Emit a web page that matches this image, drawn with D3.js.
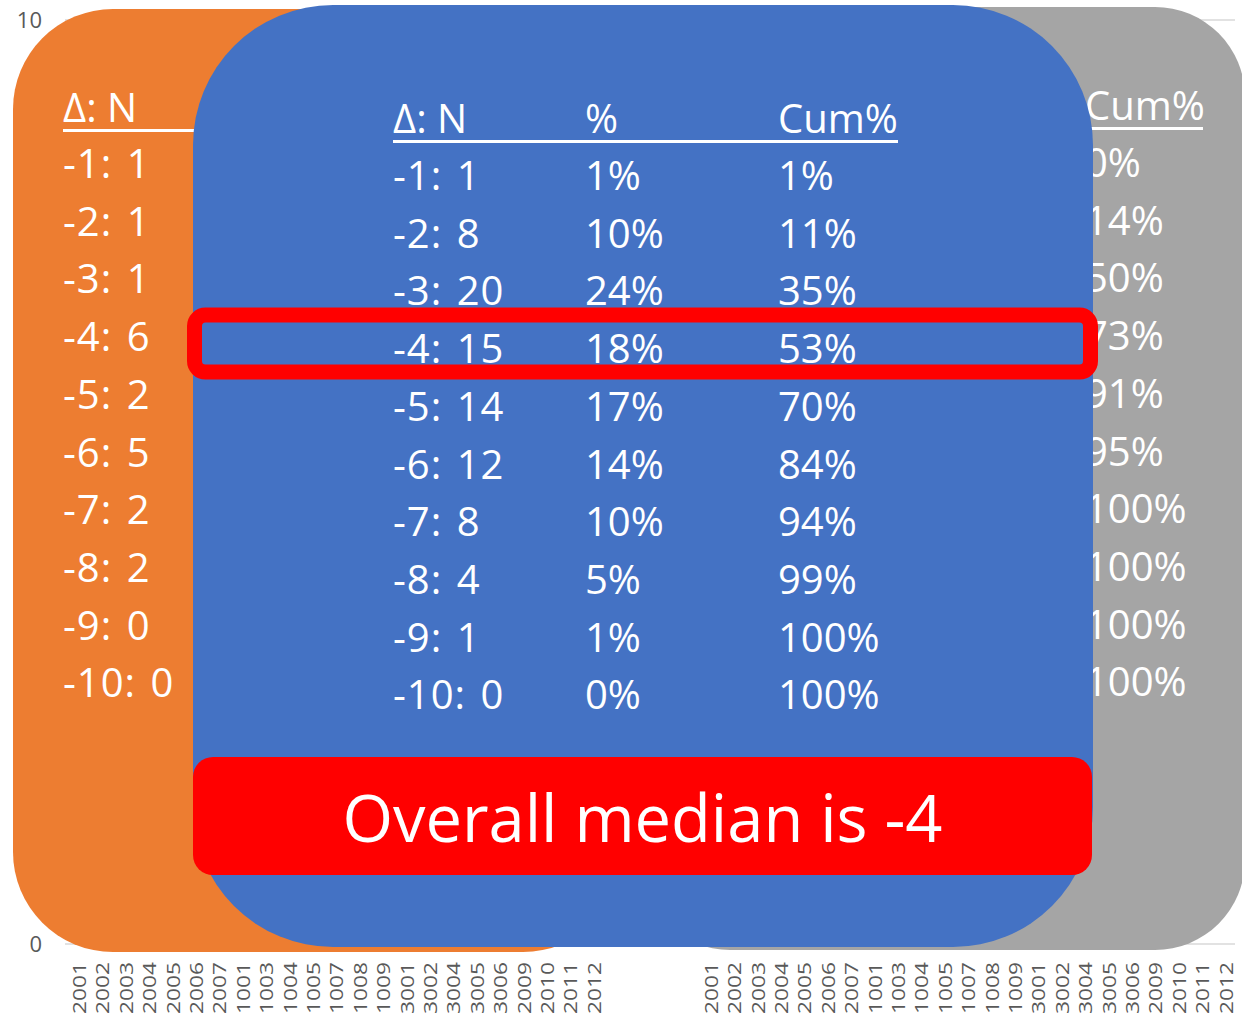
<!DOCTYPE html>
<html>
<head>
<meta charset="utf-8">
<script src="https://cdn.jsdelivr.net/npm/d3@7"></script>
<style>
  html, body { margin: 0; padding: 0; background: #ffffff; }
  svg { display: block; }
  .tbl { font-family: "Open Sans", "Noto Sans", sans-serif; fill: #ffffff; }
  .axis text { font-family: "Open Sans", "Noto Sans", sans-serif; fill: #595959; }
</style>
</head>
<body>
<svg id="chart" width="1242" height="1019"></svg>
<script>
// Category codes shown under each of the two panels
const groupCodes = ["2001","2002","2003","2004","2005","2006","2007",
                    "1001","1003","1004","1005","1007","1008","1009",
                    "3001","3002","3004","3005","3006",
                    "2009","2010","2011","2012"];
const panels = ["L", "R"];
const spacerCount = 4;
const yTicks = [0, 2, 4, 6, 8, 10];

// Change in score (Δ) and counts per group
const deltas = [-1, -2, -3, -4, -5, -6, -7, -8, -9, -10];
const orangeN = [1, 1, 1, 6, 2, 5, 2, 2, 0, 0];
const blueN = [1, 8, 20, 15, 14, 12, 8, 4, 1, 0];
const bluePct = [1, 10, 24, 18, 17, 14, 10, 5, 1, 0];
const blueCum = [1, 11, 35, 53, 70, 84, 94, 99, 100, 100];
const grayCum = [0, 14, 50, 73, 91, 95, 100, 100, 100, 100];
const medianDelta = -4;

const svg = d3.select("#chart");

// ---- background axes ----
const xDomain = [];
panels.forEach((p, pi) => {
  groupCodes.forEach(c => xDomain.push(p + "|" + c));
  if (pi < panels.length - 1) {
    for (let s = 0; s < spacerCount; s++) xDomain.push("gap|" + s);
  }
});
const x = d3.scaleBand().domain(xDomain).range([67.5, 1237.5]);
const y = d3.scaleLinear().domain([0, 10]).range([944, 20]);

const grid = svg.append("g");
grid.selectAll("line").data(yTicks).join("line")
  .attr("x1", 65).attr("x2", 1235)
  .attr("y1", d => y(d)).attr("y2", d => y(d))
  .attr("stroke", "#d9d9d9").attr("stroke-width", 1.3);

const yAxis = svg.append("g").attr("class", "axis")
  .attr("transform", "translate(43,0)")
  .call(d3.axisLeft(y).tickValues(yTicks).tickSize(0).tickPadding(1));
yAxis.select(".domain").remove();
yAxis.selectAll("text").attr("font-size", 22);

const xAxis = svg.append("g").attr("class", "axis")
  .attr("transform", "translate(0,944)")
  .call(d3.axisBottom(x).tickSize(0)
    .tickFormat(d => d.startsWith("gap|") ? "" : d.split("|")[1]));
xAxis.select(".domain").remove();
xAxis.selectAll(".tick text")
  .attr("font-size", 19)
  .attr("transform", "rotate(-90)")
  .attr("text-anchor", "end")
  .attr("x", -18).attr("y", 0).attr("dy", "0.36em")
  .filter(d => !d.startsWith("gap|"))
  .attr("textLength", 52).attr("lengthAdjust", "spacingAndGlyphs");

// ---- table panels ----
const fontSize = 40;
const rowStep = 57.7;

function drawBox(g, bx, by, bw, bh, r, fill) {
  g.append("rect").attr("x", bx).attr("y", by).attr("width", bw).attr("height", bh)
    .attr("rx", r).attr("ry", r).attr("fill", fill);
}
function drawColumn(g, colX, headerY, firstY, header, values, underlineFrom, underlineTo, loose) {
  const row = d3.scaleLinear().domain([0, 1]).range([firstY, firstY + rowStep]);
  g.append("text").attr("class", "tbl").attr("x", colX).attr("y", headerY)
    .attr("font-size", fontSize).text(header);
  if (underlineFrom !== undefined) {
    g.append("rect").attr("x", underlineFrom).attr("y", headerY + 7)
      .attr("width", underlineTo - underlineFrom).attr("height", 3).attr("fill", "#ffffff");
  }
  g.selectAll(null).data(values).join("text").attr("class", "tbl")
    .attr("x", colX).attr("y", (d, i) => row(i))
    .attr("font-size", fontSize)
    .attr("letter-spacing", loose ? 1 : 0)
    .attr("word-spacing", loose ? 3 : 0)
    .text(d => d);
}

// orange group
const gO = svg.append("g");
drawBox(gO, 13, 9, 610, 943, 100, "#ED7D31");
drawColumn(gO, 63, 122, 178, "Δ: N",
  deltas.map((d, i) => d + ": " + orangeN[i]), 63, 420, true);

// gray group
const gG = svg.append("g");
drawBox(gG, 640, 7, 605, 943, 90, "#A5A5A5");
drawColumn(gG, 1085, 120, 177, "Cum%",
  grayCum.map(v => v + "%"), 700, 1203);

// blue group
const gB = svg.append("g");
drawBox(gB, 193, 5, 900, 942, 140, "#4472C4");
const blueHeaderY = 133, blueFirstY = 190;
drawColumn(gB, 393, blueHeaderY, blueFirstY, "Δ: N",
  deltas.map((d, i) => d + ": " + blueN[i]), 393, 898, true);
drawColumn(gB, 585, blueHeaderY, blueFirstY, "%", bluePct.map(v => v + "%"));
drawColumn(gB, 778, blueHeaderY, blueFirstY, "Cum%", blueCum.map(v => v + "%"));

// median row highlight
const medIdx = deltas.indexOf(medianDelta);
const medBase = blueFirstY + medIdx * rowStep;
svg.append("rect")
  .attr("x", 194.5).attr("y", medBase - 48)
  .attr("width", 896).attr("height", 57)
  .attr("rx", 11).attr("ry", 11)
  .attr("fill", "none").attr("stroke", "#FF0000").attr("stroke-width", 15);

// median banner
svg.append("rect")
  .attr("x", 193).attr("y", 757).attr("width", 899).attr("height", 118)
  .attr("rx", 20).attr("ry", 20).attr("fill", "#FF0000");
svg.append("text").attr("class", "tbl")
  .attr("x", 642.5).attr("y", 842)
  .attr("text-anchor", "middle").attr("font-size", 65)
  .text("Overall median is " + medianDelta);
</script>
</body>
</html>
